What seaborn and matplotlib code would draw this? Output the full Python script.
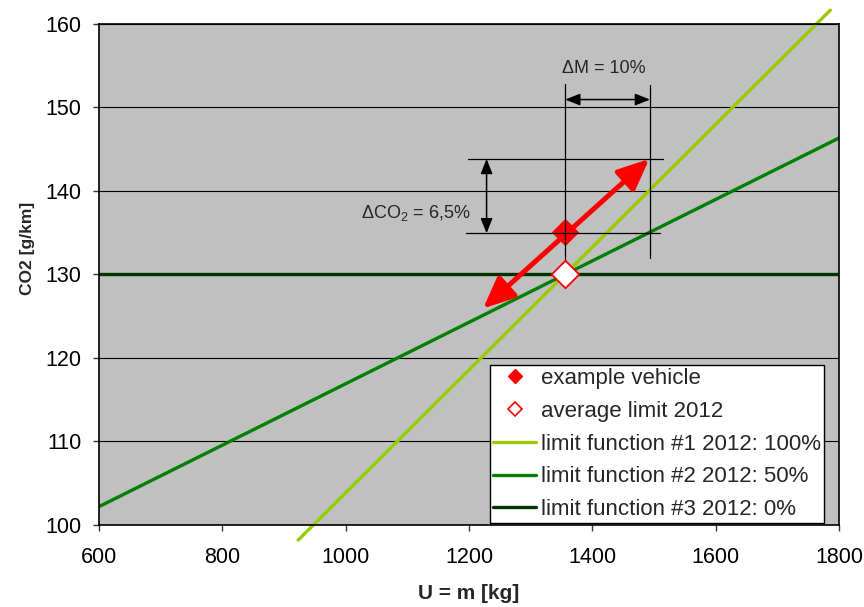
import matplotlib
matplotlib.use("Agg")
import matplotlib.pyplot as plt
import seaborn as sns
import pandas as pd
from matplotlib.lines import Line2D

# ---------------- data ----------------
lf1_mass = [923, 1786]
lf1_co2 = [98.2, 161.6]
lf2_mass = [600, 1800]
lf2_co2 = [102.2, 146.3]
lf3_mass = [600, 1800]
lf3_co2 = [130, 130]
vehicle_mass = [1356]
vehicle_co2 = [135]
avg_mass = [1356]
avg_co2 = [130]
legend_labels = ["example vehicle", "average limit 2012",
                 "limit function #1 2012: 100%",
                 "limit function #2 2012: 50%",
                 "limit function #3 2012: 0%"]
x_ticks = [600, 800, 1000, 1200, 1400, 1600, 1800]
y_ticks = [100, 110, 120, 130, 140, 150, 160]
dm_text = "ΔM = 10%"
dco2_text = "ΔCO$_2$ = 6,5%"

# ---------------- style ----------------
sns.set_style("ticks")
plt.rcParams["font.family"] = ["Liberation Sans", "DejaVu Sans"]
plt.rcParams["mathtext.default"] = "regular"

C1 = "#99cc00"
C2 = "#008000"
C3 = "#003300"
BG = "#c0c0c0"

fig = plt.figure(figsize=(8.64, 6.07), dpi=100)
ax = fig.add_axes([99 / 864, 1 - 525 / 607, 740 / 864, 501.5 / 607])
ax.set_facecolor(BG)

df1 = pd.DataFrame({"m": lf1_mass, "co2": lf1_co2})
df2 = pd.DataFrame({"m": lf2_mass, "co2": lf2_co2})
df3 = pd.DataFrame({"m": lf3_mass, "co2": lf3_co2})

sns.lineplot(data=df1, x="m", y="co2", ax=ax, color=C1, lw=2.4, zorder=3,
             clip_on=False)
sns.lineplot(data=df2, x="m", y="co2", ax=ax, color=C2, lw=2.4, zorder=3)
sns.lineplot(data=df3, x="m", y="co2", ax=ax, color=C3, lw=2.4, zorder=3)

ax.set_xlim(600, 1800)
ax.set_ylim(100, 160)
ax.set_xticks(x_ticks)
ax.set_yticks(y_ticks)
ax.yaxis.grid(True, color="black", lw=0.8)
ax.xaxis.grid(False)
ax.set_axisbelow(True)

# red double arrow
ax.annotate("", xy=(1492.4, 143.8), xytext=(1222.7, 125.9),
            arrowprops=dict(arrowstyle="<|-|>,head_length=0.95,head_width=0.42",
                            mutation_scale=20, color="red", lw=3.6,
                            shrinkA=0, shrinkB=0), zorder=4)

# points
sns.scatterplot(x=vehicle_mass, y=vehicle_co2, ax=ax, marker="D", s=196,
                color="red", edgecolor="red", linewidth=0, zorder=5)

# black annotation lines
lk = dict(color="black", lw=0.9, zorder=6)
ax.plot([1199, 1515], [143.8, 143.8], **lk)
ax.plot([1195, 1510], [134.9, 134.9], **lk)
ax.plot([1356, 1356], [152.8, 131.5], **lk)
ax.plot([1493.5, 1493.5], [152.6, 132.0], **lk)
ax.annotate("", xy=(1493.5, 150.9), xytext=(1356, 150.9),
            arrowprops=dict(arrowstyle="<|-|>,head_length=0.75,head_width=0.3",
                            mutation_scale=12, color="black", lw=1.1,
                            shrinkA=0, shrinkB=0), zorder=6)
ax.annotate("", xy=(1228.5, 143.8), xytext=(1228.5, 134.9),
            arrowprops=dict(arrowstyle="<|-|>,head_length=0.75,head_width=0.3",
                            mutation_scale=12, color="black", lw=1.1,
                            shrinkA=0, shrinkB=0), zorder=6)

sns.scatterplot(x=avg_mass, y=avg_co2, ax=ax, marker="D", s=196,
                color="white", edgecolor="red", linewidth=1.3, zorder=7)

ax.text(1419, 154.6, dm_text, ha="center", va="center", fontsize=13)
ax.text(1203, 137.3, dco2_text, ha="right", va="center", fontsize=13)

# axes styling
for sp in ax.spines.values():
    sp.set_visible(True)
    sp.set_color("black")
    sp.set_linewidth(1.2)
    sp.set_zorder(8)
ax.tick_params(axis="both", direction="out", length=4.5, width=1.0,
               color="#333333", labelsize=15.5, labelcolor="black")
ax.tick_params(axis="x", pad=11)
ax.tick_params(axis="y", pad=8)

ax.set_xlabel("U = m [kg]", fontsize=15, fontweight="bold", labelpad=12)
ax.set_ylabel("CO2 [g/km]", fontsize=12.5, fontweight="bold")
ax.yaxis.set_label_coords(-0.087, 0.552)

handles = [
    Line2D([], [], marker="D", color="red", ls="none", ms=7.6),
    Line2D([], [], marker="D", mfc="white", mec="red", mew=1.2, ls="none", ms=7.6),
    Line2D([], [], color=C1, lw=2.4),
    Line2D([], [], color=C2, lw=2.4),
    Line2D([], [], color=C3, lw=2.4),
]
leg = ax.legend(handles, legend_labels, loc="lower right",
                bbox_to_anchor=(0.98, 0.003), borderaxespad=0,
                fontsize=16, frameon=True, fancybox=False, framealpha=1,
                edgecolor="black", facecolor="white",
                handlelength=1.95, handletextpad=0.2, labelspacing=0.53,
                borderpad=0.15)
leg.get_frame().set_linewidth(1.0)
leg.set_zorder(10)

fig.savefig("out.png", dpi=100)
